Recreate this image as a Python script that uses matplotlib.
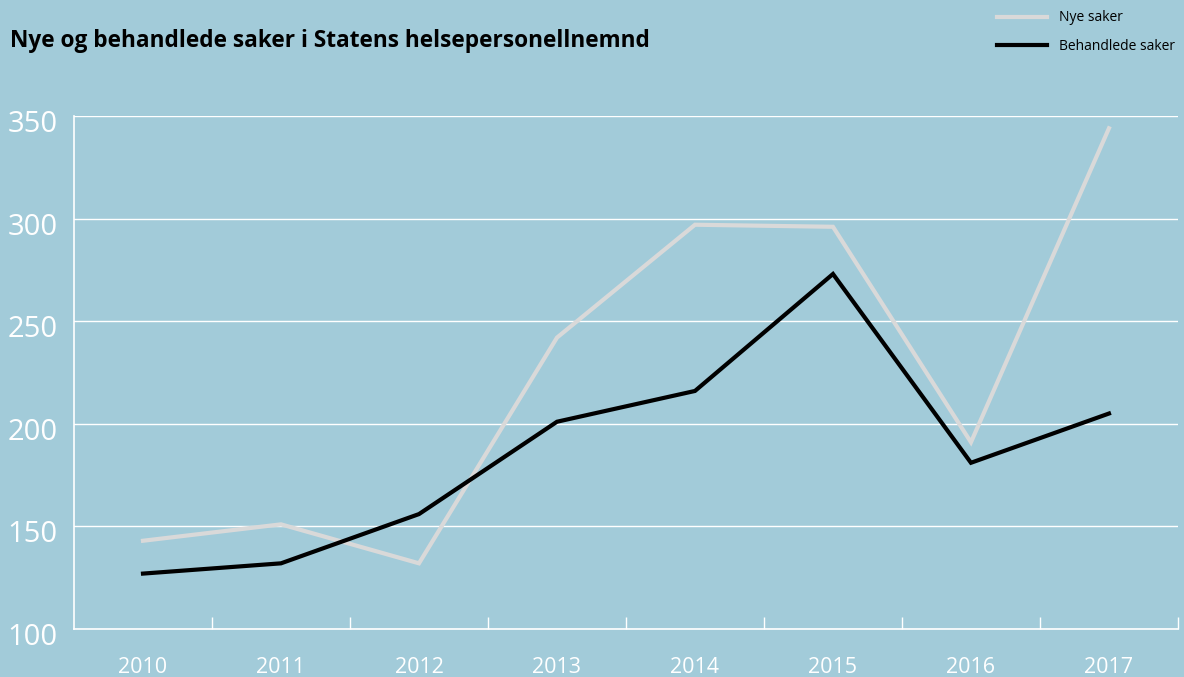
import matplotlib.pyplot as plt
import matplotlib.transforms as mtrans
import numpy as np

# data
years = ['2010', '2011', '2012', '2013', '2014', '2015', '2016', '2017']
nye_saker = [143, 151, 132, 242, 297, 296, 191, 344]
behandlede_saker = [127, 132, 156, 201, 216, 273, 181, 205]
y_ticks = [100, 150, 200, 250, 300, 350]

bg = '#a2cbd9'
plt.rcParams['font.family'] = ['Open Sans', 'DejaVu Sans']

fig = plt.figure(figsize=(11.84, 6.77), dpi=100, facecolor=bg)
ax = fig.add_axes([0.0625, 0.0709, 0.9324, 0.7578], facecolor=bg)

x = np.arange(len(years))
ax.plot(x, nye_saker, color='#d9d9d9', lw=3, label='Nye saker', solid_joinstyle='miter')
ax.plot(x, behandlede_saker, color='black', lw=3, label='Behandlede saker', solid_joinstyle='miter')

ax.set_xlim(-0.5, len(years) - 0.5)
ax.set_ylim(100, 350)

# gridlines
ax.set_yticks(y_ticks)
ax.set_yticklabels([str(v) for v in y_ticks], fontsize=21, color='white')
ax.grid(axis='y', color='white', lw=1)
ax.set_axisbelow(True)
ax.tick_params(axis='y', length=0, pad=12)
# labels sit a little below their gridline in the original
shift = mtrans.ScaledTranslation(0, -5 / 100, fig.dpi_scale_trans)
for lbl in ax.get_yticklabels():
    lbl.set_transform(lbl.get_transform() + shift)

# category boundaries as ticks, labels at centres
ax.set_xticks(x)
ax.set_xticklabels(years, fontsize=15.5, color='white')
ax.tick_params(axis='x', which='major', length=0, pad=20)
ax.set_xticks(np.arange(0.5, len(years)), minor=True)
ax.tick_params(axis='x', which='minor', direction='in', length=9, width=1, color='white')

for s in ['top', 'right']:
    ax.spines[s].set_visible(False)
for s in ['left', 'bottom']:
    ax.spines[s].set_color('white')
    ax.spines[s].set_linewidth(1.2)

fig.text(0.0085, 0.94, 'Nye og behandlede saker i Statens helsepersonellnemnd',
         fontsize=16.3, fontweight='bold', color='black', va='center')

fig.legend(loc='upper right', bbox_to_anchor=(1.003, 1.003), frameon=False,
           fontsize=10, handlelength=3.6, labelspacing=1.0, handletextpad=0.9)

fig.savefig('out.png', dpi=100, facecolor=bg)
